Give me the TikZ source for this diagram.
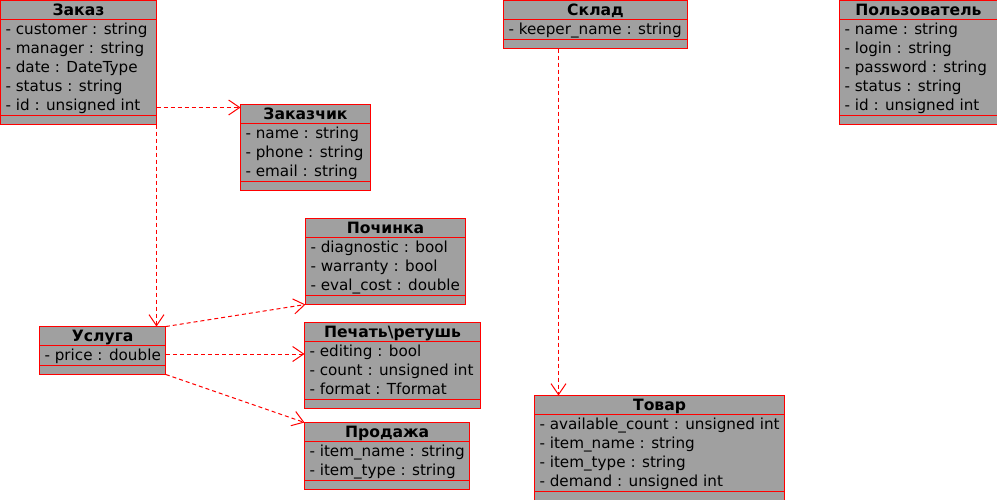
\documentclass[tikz,border=0pt]{standalone}
\usepackage{fontspec}
\setmainfont{DejaVu Sans}
\usepackage{array}
\usetikzlibrary{shapes.multipart,arrows.meta,calc}
\definecolor{umlgray}{RGB}{160,160,160}
\newcommand{\rowstrut}{\rule[-4pt]{0pt}{19pt}}
\newcommand{\titlestrut}{\rule[-4pt]{0pt}{18.5pt}}
\newcommand{\opsstrut}{\rule{0pt}{8.5pt}}
\newcommand{\attrs}[1]{\renewcommand{\arraystretch}{0}\raisebox{0pt}[\dimexpr\height-1pt\relax][\depth]{\begin{tabular}{@{}>{\rowstrut}l@{}}#1\end{tabular}}}
\newcommand{\ctitle}[1]{\titlestrut{\fontsize{15.6}{19}\selectfont\bfseries #1}}

\begin{document}
\begin{tikzpicture}[x=1pt,y=-1pt,font=\fontsize{15.2}{19}\selectfont]
		\tikzstyle{ClassStyle} = [rectangle split, rectangle split parts=3, rectangle split part align={center,left,left}, rectangle split draw splits=false, draw, color=red, text=black, fill=umlgray, line width=1pt, inner xsep=5pt, inner ysep=0pt, outer sep=0pt, anchor=north west]
		\tikzstyle{SplitStyle} = [red, line width=1pt]
		\tikzstyle{DepStyle}   = [red, line width=1pt, dash pattern=on 4pt off 3pt, -{Straight Barb[length=11pt,width=15pt]}]
		\useasboundingbox (0,0) rectangle (997,499);

		\node[ClassStyle, minimum width=156] (zakaz) at (0.5,0.5) {\ctitle{Заказ}\nodepart{two}\attrs{- customer : string\\ - manager : string\\ - date : DateType\\ - status : string\\ - id : unsigned int}\nodepart{three}\opsstrut};
		\node[ClassStyle, minimum width=130] (zakazchik) at (240.5,104.5) {\ctitle{Заказчик}\nodepart{two}\attrs{- name : string\\ - phone : string\\ - email : string}\nodepart{three}\opsstrut};
		\node[ClassStyle, minimum width=184] (sklad) at (503.5,0.5) {\ctitle{Склад}\nodepart{two}\attrs{- keeper\_name : string}\nodepart{three}\opsstrut};
		\node[ClassStyle, minimum width=158] (polzovatel) at (839.5,0.5) {\ctitle{Пользователь}\nodepart{two}\attrs{- name : string\\ - login : string\\ - password : string\\ - status : string\\ - id : unsigned int}\nodepart{three}\opsstrut};
		\node[ClassStyle, minimum width=160] (pochinka) at (305.5,218.5) {\ctitle{Починка}\nodepart{two}\attrs{- diagnostic : bool\\ - warranty : bool\\ - eval\_cost : double}\nodepart{three}\opsstrut};
		\node[ClassStyle, minimum width=126] (usluga) at (39.5,326.5) {\ctitle{Услуга}\nodepart{two}\attrs{- price : double}\nodepart{three}\opsstrut};
		\node[ClassStyle, minimum width=176] (pechat) at (304.5,322.5) {\ctitle{Печать\textbackslash ретушь}\nodepart{two}\attrs{- editing : bool\\ - count : unsigned int\\ - format : Tformat}\nodepart{three}\opsstrut};
		\node[ClassStyle, minimum width=165] (prodazha) at (304.5,422.5) {\ctitle{Продажа}\nodepart{two}\attrs{- item\_name : string\\ - item\_type : string}\nodepart{three}\opsstrut};
		\node[ClassStyle, minimum width=248] (tovar) at (534.5,395.5) {\ctitle{Товар}\nodepart{two}\attrs{- available\_count : unsigned int\\ - item\_name : string\\ - item\_type : string\\ - demand : unsigned int}\nodepart{three}\opsstrut};

		\foreach \cls in {zakaz,zakazchik,sklad,polzovatel,pochinka,usluga,pechat,prodazha,tovar}
			\draw[SplitStyle] ($(\cls.north west)+(0,19)$) -- ($(\cls.north east)+(0,19)$) ($(\cls.south west)+(0,-9)$) -- ($(\cls.south east)+(0,-9)$);

		\coordinate (toZakazchik) at ($(zakazchik.north west)+(0,3)$);
		\coordinate (fromUsluga) at ($(usluga.east)+(0,3.5)$);
		\coordinate (fromSklad) at ($(sklad.south west)+(55,0)$);
		\draw[DepStyle] (zakaz.east |- toZakazchik) -- (toZakazchik);
		\draw[DepStyle] (zakaz.south east) -- (zakaz.south east |- usluga.north);
		\draw[DepStyle] (usluga.north east) -- (pochinka.south west);
		\draw[DepStyle] (fromUsluga) -- (pechat.west |- fromUsluga);
		\draw[DepStyle] (usluga.south east) -- (prodazha.north west);
		\draw[DepStyle] (fromSklad) -- (fromSklad |- tovar.north);
	\end{tikzpicture}
\end{document}
